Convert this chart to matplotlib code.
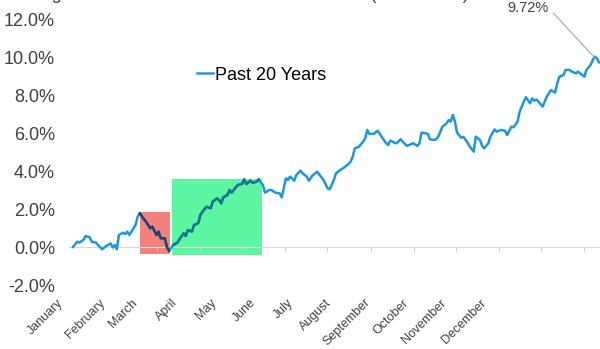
import numpy as np
import matplotlib
matplotlib.use("Agg")
import matplotlib.pyplot as plt

plt.rcParams['font.family'] = ['Liberation Sans', 'DejaVu Sans']

# trading day of the year and average YTD return (%)
days = [0, 2, 3, 5, 6, 8, 9, 11, 12, 14, 15, 16, 18, 19, 20, 21, 22, 24, 25, 26,
        27, 28, 30, 31, 32, 34, 35, 37, 38, 40, 41, 42, 44, 45, 46, 48, 50, 51, 53, 54,
        55, 57, 58, 60, 61, 62, 64, 66, 67, 69, 70, 71, 72, 74, 75, 76, 78, 79, 81, 82,
        83, 85, 86, 88, 89, 91, 92, 94, 95, 97, 99, 100, 102, 103, 104, 106, 107, 109, 110, 112,
        113, 115, 117, 119, 120, 122, 123, 125, 126, 128, 130, 132, 133, 134, 135, 137, 139, 140, 141, 142,
        144, 146, 147, 149, 150, 151, 152, 154, 155, 157, 158, 160, 161, 163, 165, 166, 167, 169, 170, 171,
        173, 174, 175, 177, 179, 180, 181, 182, 183, 184, 186, 187, 189, 190, 192, 193, 195, 196, 197, 199,
        200, 202, 203, 205, 207, 208, 210, 211, 213, 214, 216, 217, 219, 220, 221, 222, 223, 225, 226, 227,
        228, 229, 231, 232, 233, 235, 236, 238, 239, 241, 242, 243, 245, 246, 248, 249, 250, 251, 252]
ytd_return = [0.00, 0.28, 0.23, 0.37, 0.58, 0.51, 0.28, 0.23, 0.10, -0.12, -0.02, 0.05, 0.19, -0.02, 0.10, -0.12, 0.63, 0.75, 0.68, 0.81,
              0.63, 0.81, 1.16, 1.60, 1.77, 1.46, 1.33, 0.98, 1.07, 0.63, 0.81, 0.46, 0.46, 0.00, -0.20, 0.10, 0.23, 0.40, 0.72, 0.58,
              0.89, 0.81, 1.16, 1.25, 1.68, 1.85, 2.12, 2.04, 2.39, 2.56, 2.47, 2.30, 2.61, 2.74, 3.00, 2.86, 3.14, 3.26, 3.32, 3.56,
              3.32, 3.49, 3.38, 3.44, 3.56, 3.26, 2.86, 3.00, 3.00, 2.86, 2.82, 2.61, 3.61, 3.53, 3.70, 3.49, 3.79, 4.02, 3.88, 3.70,
              3.49, 3.79, 3.96, 3.67, 3.53, 3.09, 3.04, 3.53, 3.88, 4.05, 4.19, 4.37, 4.49, 4.75, 5.19, 5.28, 5.54, 5.72, 6.16, 5.95,
              5.95, 6.12, 5.95, 5.63, 5.46, 5.37, 5.60, 5.49, 5.46, 5.67, 5.54, 5.32, 5.37, 5.46, 5.32, 5.46, 6.02, 5.98, 5.95, 5.67,
              5.63, 5.67, 5.81, 6.33, 6.51, 6.68, 6.60, 6.95, 6.60, 6.02, 5.75, 5.80, 5.50, 5.30, 5.02, 5.81, 5.63, 5.32, 5.19, 5.46,
              5.81, 6.19, 6.07, 6.16, 6.12, 5.89, 6.33, 6.30, 6.60, 7.12, 7.65, 7.88, 7.56, 7.82, 7.70, 7.77, 7.65, 7.39, 7.65, 7.91,
              8.09, 8.26, 8.12, 8.61, 8.96, 9.05, 9.32, 9.32, 9.23, 9.14, 9.23, 9.14, 8.96, 9.32, 9.58, 9.84, 10.02, 9.93, 9.72]

months = ['January', 'February', 'March', 'April', 'May', 'June', 'July',
          'August', 'September', 'October', 'November', 'December']
month_label_pos = [-5.8, 14.4, 30.2, 49.4, 67.7, 86.4, 104.6, 122.9, 141.6, 159.8, 178.1, 197.3]
month_ticks = [19.2, 40.3, 61.0, 81.1, 101.8, 121.9, 142.6, 163.2, 183.4, 204.0, 224.2, 244.8]

# highlighted periods: (start day, end day, low, high)
drop_box = (32.0, 46.4, -0.37, 1.86)
rally_box = (47.2, 90.6, -0.42, 3.58)

days = np.array(days)
ytd_return = np.array(ytd_return)

fig = plt.figure(figsize=(6, 3.49), dpi=100)
ax = fig.add_axes([56.3 / 600, 1 - 285 / 349, 543.7 / 600, 266 / 349])

ax.fill_between([drop_box[0], drop_box[1]], drop_box[2], drop_box[3],
                color='#F4817C', lw=0, zorder=1)
ax.fill_between([rally_box[0], rally_box[1]], rally_box[2], rally_box[3],
                color='#5CF5A2', lw=0, zorder=1)

ax.plot(days, ytd_return, color='#1E96DC', lw=1.8, label='Past 20 Years', zorder=3)

m = (days >= drop_box[0]) & (days <= drop_box[1] + 1)
ax.plot(days[m], ytd_return[m], color='#24406A', lw=1.8, zorder=4)
m = (days >= rally_box[0] - 1) & (days <= rally_box[1])
ax.plot(days[m], ytd_return[m], color='#1F7485', lw=1.8, zorder=4)

ax.set_xlim(-8, 252.5)
ax.set_ylim(-2, 12)
ax.set_yticks(np.arange(-2, 13, 2))
ax.set_yticklabels(['{:.1f}%'.format(v) for v in np.arange(-2, 13, 2)])
ax.tick_params(axis='y', length=0, pad=1, labelsize=13, labelcolor='#404040')

for s in ['top', 'right', 'left']:
    ax.spines[s].set_visible(False)
ax.spines['bottom'].set_position(('data', 0))
ax.spines['bottom'].set_color('#d9d9d9')
ax.spines['bottom'].set_bounds(-2, 252.5)
ax.set_xticks(month_ticks)
ax.set_xticklabels([])
ax.tick_params(axis='x', length=3, color='#cccccc', direction='out')

sec = ax.secondary_xaxis(-0.06)
sec.set_xticks(month_label_pos)
sec.set_xticklabels(months, rotation=45, ha='right', va='center',
                    rotation_mode='anchor', fontsize=9, color='#404040')
sec.tick_params(length=0, pad=0)
sec.spines['bottom'].set_visible(False)

ax.legend(loc='center left', bbox_to_anchor=(0.259, 0.789), frameon=False,
          fontsize=13, handlelength=0.9, handletextpad=0.1,
          borderpad=0, borderaxespad=0)

ax.annotate('{:.2f}%'.format(ytd_return[-1]), xy=(days[-1], ytd_return[-1]),
            xytext=(218, 12.58), textcoords='data', ha='center', va='center',
            fontsize=10.5, color='#404040', annotation_clip=False,
            arrowprops=dict(arrowstyle='-', color='#a6a6a6', lw=0.8,
                            relpos=(1, 0.5), shrinkA=2, shrinkB=3))

# title is cut by the top edge in the source image
fig.text(0.008, 1 + 1 / 349, 'Average S&P 500 Index Year-To-Date Return (2003-2022)',
         fontsize=13, color='#404040', va='baseline')

fig.savefig('out.png', dpi=100)
